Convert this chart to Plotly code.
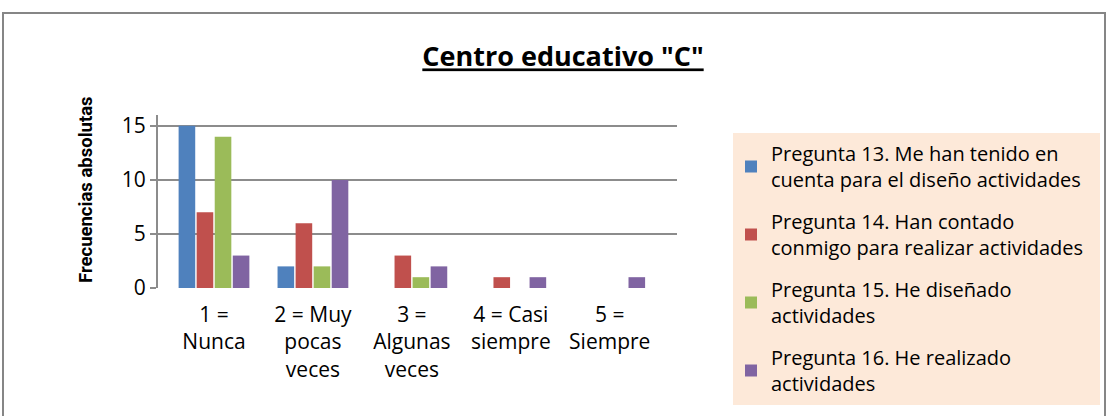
import plotly.graph_objects as go

categories = ["1 =<br>Nunca", "2 = Muy<br>pocas<br>veces", "3 =<br>Algunas<br>veces", "4 = Casi<br>siempre", "5 =<br>Siempre"]
series_names = [
    "Pregunta 13. Me han tenido en<br>cuenta para el diseño actividades",
    "Pregunta 14. Han contado<br>conmigo para realizar actividades",
    "Pregunta 15. He diseñado<br>actividades",
    "Pregunta 16. He realizado<br>actividades",
]
q13 = [15, 2, 0, 0, 0]
q14 = [7, 6, 3, 1, 0]
q15 = [14, 2, 1, 0, 0]
q16 = [3, 10, 2, 1, 1]
colors = ["#4F81BD", "#C0504D", "#9BBB59", "#8064A2"]
y_ticks = [0, 5, 10, 15]

FONT = "Open Sans"
L, R, T, B = 158, 430, 115, 128
W = 1107 - L - R
H = 416 - T - B

def px_x(px):
    return (px - L) / W

def px_y(py):
    return (416 - B - py) / H

fig = go.Figure()
for name, vals, col in zip(series_names, [q13, q14, q15, q16], colors):
    fig.add_trace(go.Bar(
        x=list(range(len(categories))), y=vals, name=name,
        marker=dict(color=col, line=dict(width=0)),
        legendgroup=name,
    ))

fig.update_layout(
    width=1107, height=416,
    margin=dict(l=L, r=R, t=T, b=B),
    paper_bgcolor="white", plot_bgcolor="white",
    barmode="group", bargap=0.27, bargroupgap=0.08,
    title=dict(text='<b><u>Centro educativo "C"</u></b>', x=(563) / 1107, xanchor="center",
               y=1 - 57 / 416, yanchor="middle", font=dict(family=FONT, size=27, color="black")),
    font=dict(family=FONT, color="black"),
    xaxis=dict(
        tickmode="array", tickvals=list(range(len(categories))), ticktext=categories,
        range=[-0.566, 4.68], showgrid=False, zeroline=False, showline=False,
        tickfont=dict(family=FONT, size=21, color="black"), ticks="", ticklabelstandoff=12,
    ),
    yaxis=dict(
        range=[0, 16], tickvals=y_ticks, showgrid=True, gridcolor="#8C8C8C", gridwidth=2,
        zeroline=False, showline=True, linecolor="#8C8C8C", linewidth=2,
        ticks="outside", ticklen=6, tickcolor="#8C8C8C", tickwidth=2,
        tickfont=dict(family=FONT, size=21, color="black"),
    ),
    annotations=[
        dict(text="<b>Frecuencias absolutas</b>", xref="paper", yref="paper",
             x=px_x(86), y=px_y(190), xanchor="center", yanchor="middle", textangle=-90,
             showarrow=False, font=dict(family="Roboto", size=18.5, color="black")),
    ],
    legend=dict(
        x=px_x(731), y=px_y(134), xanchor="left", yanchor="top",
        bgcolor="rgba(0,0,0,0)", font=dict(family=FONT, size=20, color="black"),
        tracegroupgap=13, itemwidth=30, traceorder="grouped", maxheight=400,
    ),
    shapes=[
        dict(type="rect", xref="paper", yref="paper",
             x0=px_x(733), x1=px_x(1100), y0=px_y(405), y1=px_y(133),
             fillcolor="#FDE9D9", line=dict(width=0), layer="below"),
        dict(type="rect", xref="paper", yref="paper",
             x0=px_x(3), x1=px_x(1105), y0=px_y(430), y1=px_y(13),
             fillcolor="rgba(0,0,0,0)", line=dict(color="#868686", width=2), layer="below"),
    ],
)

fig.write_html("out.html", config={"displayModeBar": False},
               post_script="document.body.style.margin='0px';")
